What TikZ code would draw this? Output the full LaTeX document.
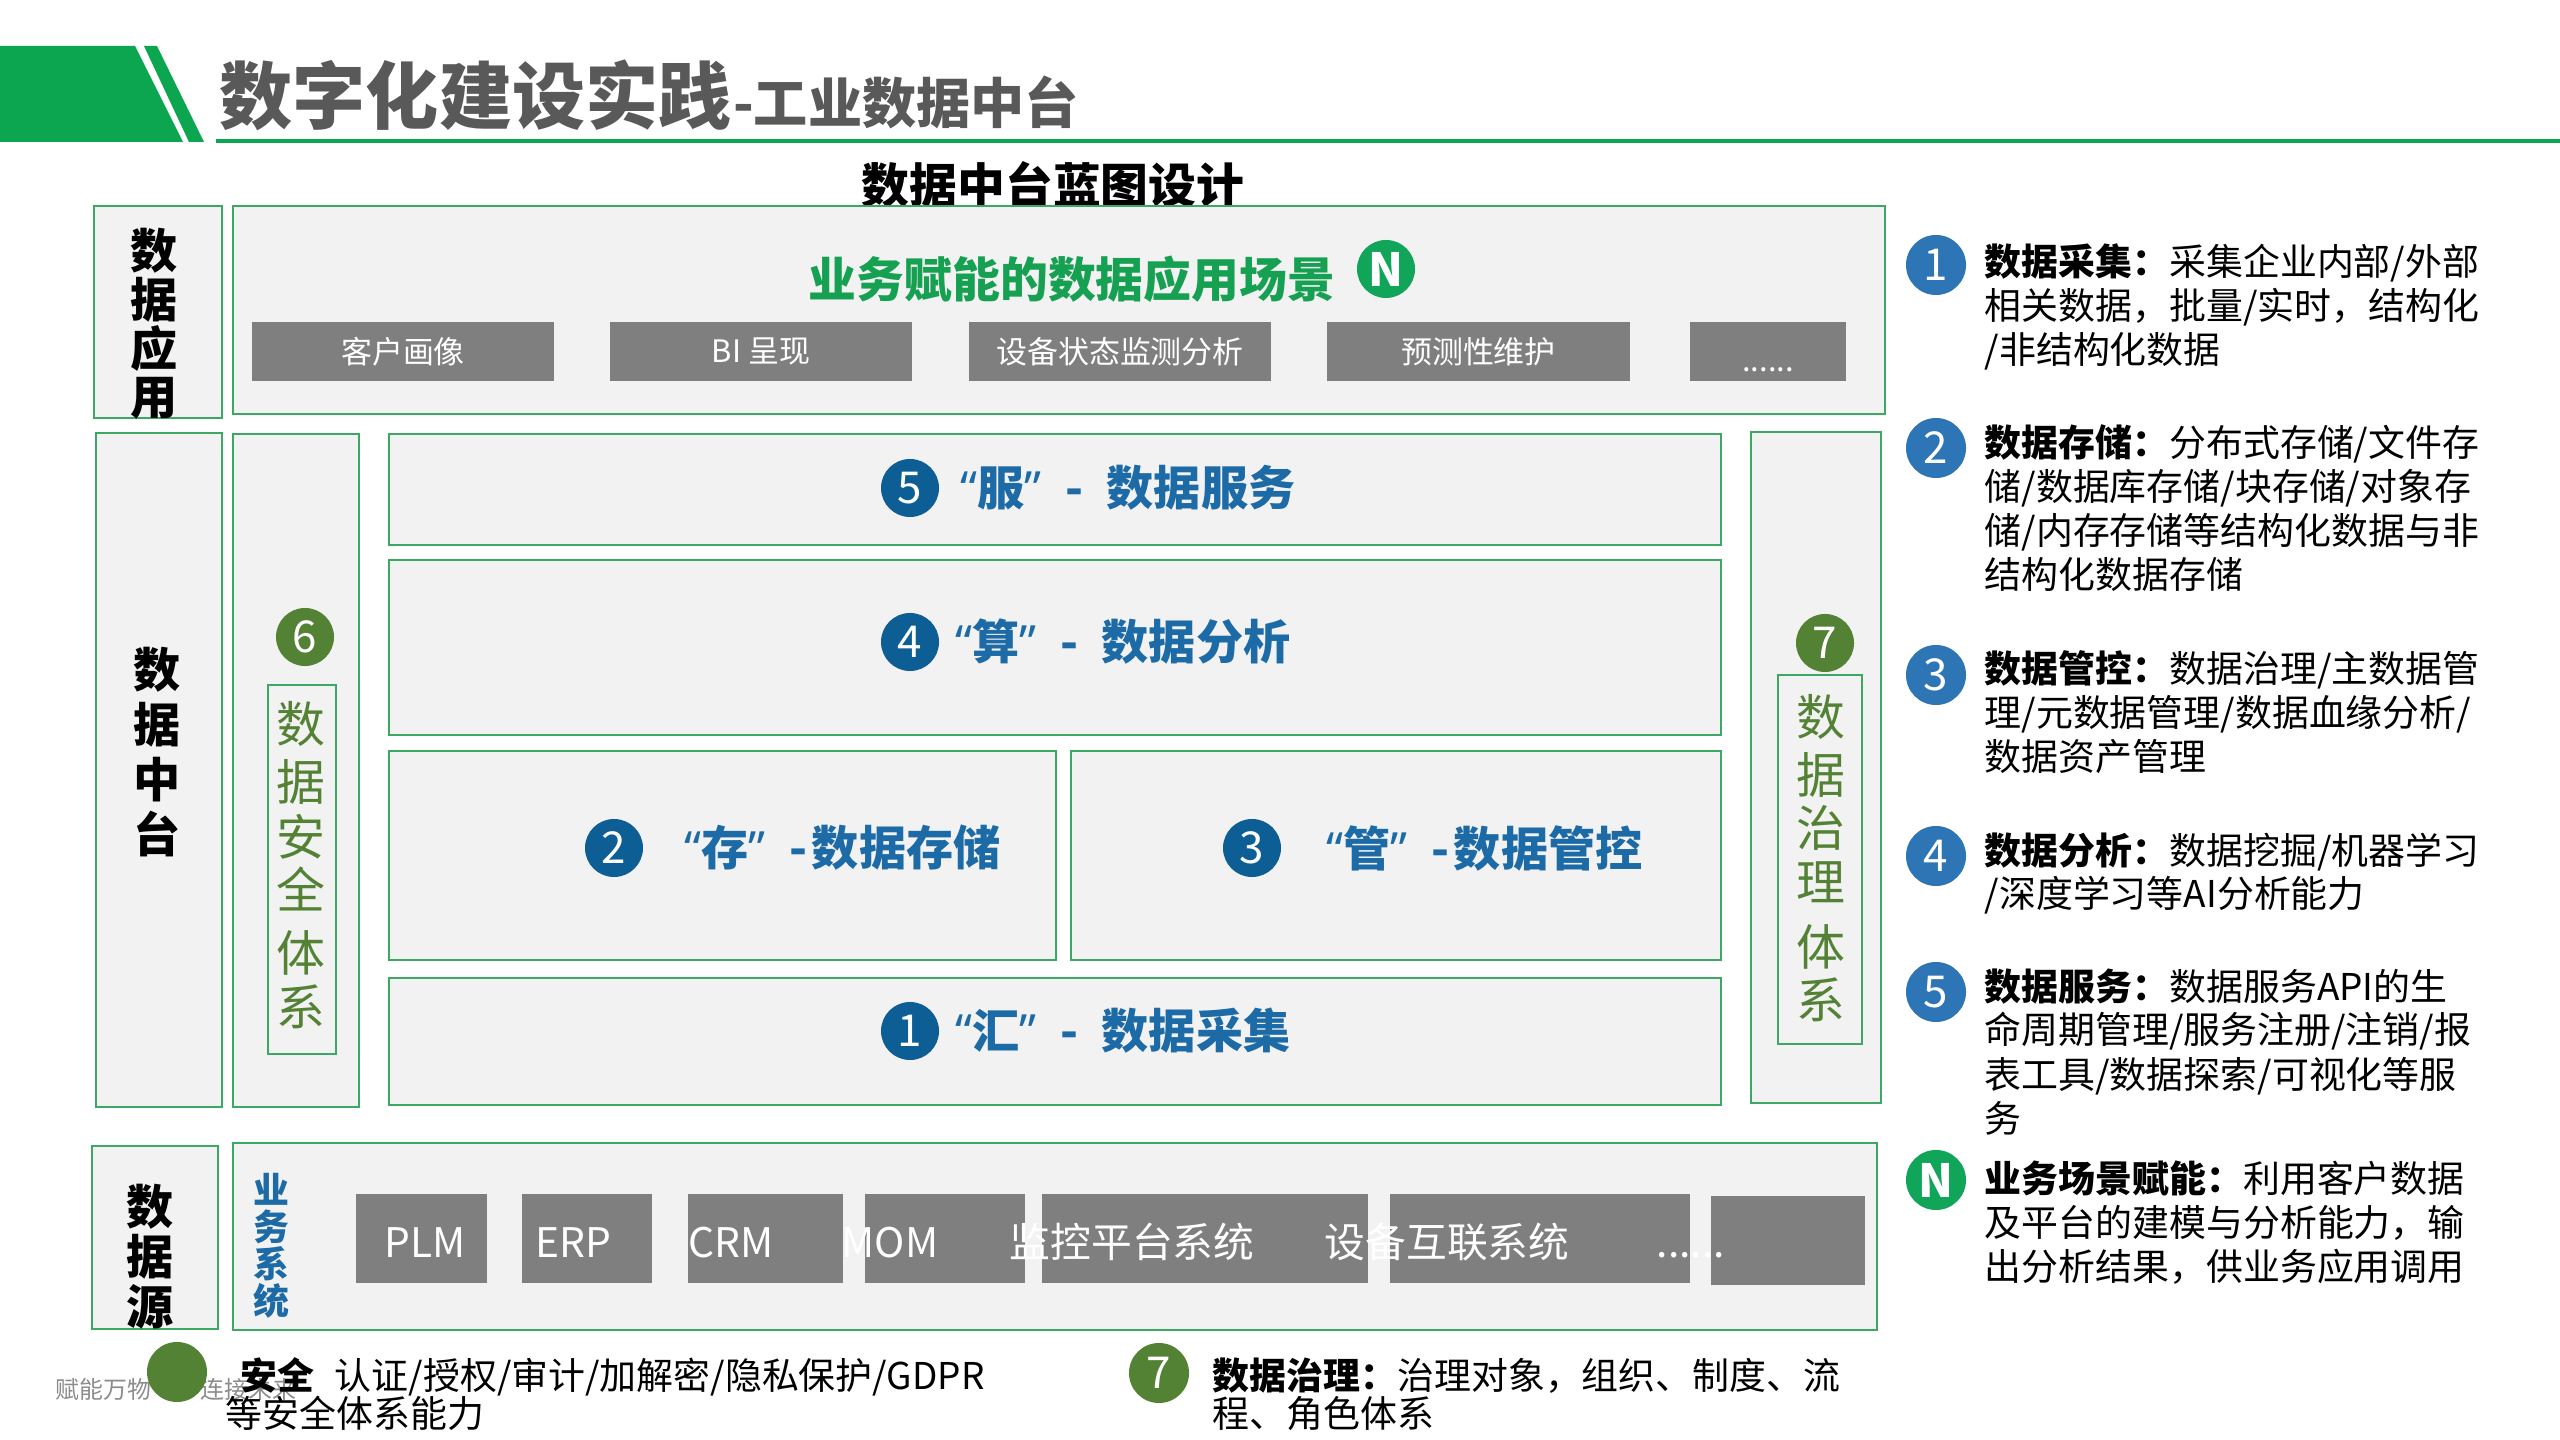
\documentclass[tikz,border=0pt]{standalone}
\usepackage{fontspec}
\setmainfont{Noto Sans CJK SC}
\newfontfamily\qfont{Noto Sans}
\newcommand{\qopen}{{\qfont “}}
\newcommand{\qclose}{{\qfont ”}}
\newcommand{\wdash}{\hspace{0.5em}-\hspace{0.5em}}
\newcommand{\ndash}{\hspace{0.5em}-\hspace{0.1em}}
\usetikzlibrary{fit}
\definecolor{hdrgreen}{RGB}{12,166,80}
\definecolor{bordergreen}{RGB}{60,168,100}
\definecolor{panelgray}{RGB}{242,242,242}
\definecolor{boxgray}{RGB}{127,127,127}
\definecolor{titlegray}{RGB}{89,89,89}
\definecolor{appgreen}{RGB}{22,160,82}
\definecolor{layerblue}{RGB}{28,106,166}
\definecolor{numblue}{RGB}{14,94,150}
\definecolor{olivegreen}{RGB}{84,130,53}
\definecolor{legblue}{RGB}{46,117,182}
\definecolor{ngreen}{RGB}{16,165,88}
\definecolor{wmgray}{RGB}{140,140,140}
\newcommand{\fsz}[2]{\fontsize{#1}{#2}\selectfont}
\tikzset{
  panel/.style={draw=bordergreen, line width=0.5pt, fill=panelgray, inner sep=0pt},
  graybox/.style={fill=boxgray, inner sep=0pt},
  layertext/.style={text=layerblue, font=\bfseries\fsz{13.4}{16}, inner sep=0pt, anchor=west},
  numcirc/.style={circle, fill=numblue, text=white, minimum size=0.58cm, inner sep=0pt, font=\fsz{12.5}{14}},
  legcirc/.style={circle, fill=legblue, text=white, minimum size=0.6cm, inner sep=0pt, font=\fsz{12.5}{14}},
  olivecirc/.style={circle, fill=olivegreen, text=white, minimum size=0.58cm, inner sep=0pt, font=\fsz{12.5}{14}},
  vlabel/.style={align=center, inner sep=0pt},
  apptext/.style={text=white, font=\fsz{8.8}{10}, inner sep=0pt},
  srctext/.style={text=white, font=\fsz{11.6}{13}, inner sep=0pt, anchor=base west},
  legtext/.style={font=\fsz{10.5}{12.5}, inner sep=0pt, anchor=base west},
  olivechar/.style={text=olivegreen, font=\fsz{13.9}{15}, inner sep=0pt},
}
\begin{document}
\begin{tikzpicture}[x=0.01cm, y=-0.01cm]
\fill[white] (0,0) rectangle (2560,1440);
\useasboundingbox (0,0) rectangle (2560,1440);
% header
\fill[hdrgreen] (0,46) -- (135,46) -- (183,142) -- (0,142) -- cycle;
\fill[hdrgreen] (144,46) -- (157,46) -- (204,142) -- (189,142) -- cycle;
\draw[hdrgreen, line width=1pt] (216,141) -- (2560,141);
\node[anchor=base west, inner sep=0pt, text=titlegray, font=\bfseries\fsz{20.8}{24}] (ttl) at (219,124) {数字化建设实践};
\node[anchor=base west, inner sep=0pt, text=titlegray, font=\bfseries\fsz{15.4}{18}] (ttl2) at (ttl.base east) {-工业数据中台};
\node[font=\bfseries\fsz{13.6}{16}, inner sep=0pt] (bp) at (1053,185) {数据中台蓝图设计};

% row 1: data applications
\node[panel, fit={(94,206) (222,418)}] (lapp) {};
\node[vlabel, font=\bfseries\fsz{13.4}{13.8}] (lapptxt) at (154,324) {数\\据\\应\\用};
\node[panel, fit={(233,206) (1885,414)}] (app) {};
\node[font=\bfseries\fsz{13.6}{16}, text=appgreen, inner sep=0pt] (apptitle) at (1072,279) {业务赋能的数据应用场景};
\node[circle, fill=ngreen, text=white, minimum size=0.58cm, inner sep=0pt, font=\bfseries\fsz{13}{14}] (ncirc) at (1386,269) {N};
\node[graybox, fit={(252,322) (554,381)}] (a1) {};
\node[apptext] (a1t) at (a1.center) {客户画像};
\node[graybox, fit={(610,322) (912,381)}] (a2) {};
\node[apptext] (a2t) at (a2.center) {BI 呈现};
\node[graybox, fit={(969,322) (1271,381)}] (a3) {};
\node[apptext] (a3t) at (a3.center) {设备状态监测分析};
\node[graybox, fit={(1327,322) (1630,381)}] (a4) {};
\node[apptext] (a4t) at (a4.center) {预测性维护};
\node[graybox, fit={(1690,322) (1846,381)}] (a5) {};
\node[apptext, anchor=base] (a5t) at (1768,372) {......};

% row 2: data middle platform
\node[panel, fit={(96,433) (222,1107)}] (ltai) {};
\node[vlabel, font=\bfseries\fsz{13.4}{15.6}] (ltaitxt) at (157,752) {数\\据\\中\\台};
\node[panel, fit={(233,434) (359,1107)}] (seccol) {};
\node[olivecirc] (c6) at (305,637) {6};
\node[panel, fit={(268,685) (336,1054)}] (secbox) {};
\foreach \ch/\yy [count=\i] in {数/724, 据/782, 安/837, 全/889, 体/953, 系/1007}
  \node[olivechar] (sc\i) at (301,\yy) {\ch};

\node[panel, fit={(389,434) (1721,545)}] (svc) {};
\node[panel, fit={(389,560) (1721,735)}] (ana) {};
\node[panel, fit={(389,751) (1056,960)}] (sto) {};
\node[panel, fit={(1071,751) (1721,960)}] (ctl) {};
\node[panel, fit={(389,978) (1721,1105)}] (col) {};
\node[numcirc] (c5) at (910,488) {5};
\node[layertext] (t5) at (960,488) {\qopen 服\qclose\wdash 数据服务};
\node[numcirc] (c4) at (910,642) {4};
\node[layertext] (t4) at (955,642) {\qopen 算\qclose\wdash 数据分析};
\node[numcirc] (c2) at (614,848) {2};
\node[layertext] (t2) at (684,848) {\qopen 存\qclose\ndash 数据存储};
\node[numcirc] (c3) at (1252,848) {3};
\node[layertext] (t3) at (1326,848) {\qopen 管\qclose\ndash 数据管控};
\node[numcirc] (c1) at (910,1031) {1};
\node[layertext] (t1) at (955,1031) {\qopen 汇\qclose\wdash 数据采集};

\node[panel, fit={(1751,432) (1881,1103)}] (govcol) {};
\node[olivecirc] (c7) at (1825,643) {7};
\node[panel, fit={(1778,675) (1862,1044)}] (govbox) {};
\foreach \ch/\yy [count=\i] in {数/717, 据/775, 治/828, 理/882, 体/947, 系/1000}
  \node[olivechar] (gc\i) at (1821,\yy) {\ch};

% row 3: data sources
\node[panel, fit={(92,1146) (218,1329)}] (lsrc) {};
\node[vlabel, font=\bfseries\fsz{13.4}{14.2}] (lsrctxt) at (150,1257) {数\\据\\源};
\node[panel, fit={(233,1143) (1877,1330)}] (src) {};
\node[vlabel, text=layerblue, font=\bfseries\fsz{10.2}{10.5}] (bizsys) at (271,1246) {业\\务\\系\\统};
\node[graybox, fit={(356,1194) (487,1283)}] (s1) {};
\node[graybox, fit={(522,1194) (652,1283)}] (s2) {};
\node[graybox, fit={(688,1194) (843,1283)}] (s3) {};
\node[graybox, fit={(865,1194) (1025,1283)}] (s4) {};
\node[graybox, fit={(1042,1194) (1368,1283)}] (s5) {};
\node[graybox, fit={(1390,1194) (1690,1283)}] (s6) {};
\node[graybox, fit={(1711,1196) (1865,1285)}] (s7) {};
\node[srctext] (s1t) at (384,1257) {PLM};
\node[srctext] (s2t) at (535,1257) {ERP};
\node[srctext] (s3t) at (688,1257) {CRM};
\node[srctext] (s4t) at (841,1257) {MOM};
\node[srctext] (s5t) at (1009,1257) {监控平台系统};
\node[srctext] (s6t) at (1324,1257) {设备互联系统};
\node[srctext] (s7t) at (1656,1257) {......};

% bottom legend
\node[text=wmgray, font=\fsz{6.8}{8}, anchor=base west, inner sep=0pt] (wm1) at (55,1398) {赋能万物};
\node[text=wmgray, font=\fsz{6.8}{8}, anchor=base west, inner sep=0pt] (wm2) at (200,1398) {连接未来};
\node[circle, fill=olivegreen, minimum size=0.6cm, inner sep=0pt] (c6b) at (177,1372) {};
\node[legtext] (sec1) at (240,1389) {{\bfseries 安全}\hspace{0.55em}认证/授权/审计/加解密/隐私保护/GDPR};
\node[legtext] (sec2) at (225,1427) {等安全体系能力};
\node[olivecirc, minimum size=0.6cm] (c7b) at (1159,1373) {7};
\node[legtext] (gov1) at (1212,1389) {{\bfseries 数据治理：}治理对象，组织、制度、流};
\node[legtext] (gov2) at (1212,1427) {程、角色体系};

% right legend
\node[legcirc] (r1) at (1936,265) {1};
\node[legtext] (r1a) at (1984,276) {{\bfseries 数据采集：}采集企业内部/外部};
\node[legtext] (r1b) at (1984,320) {相关数据，批量/实时，结构化};
\node[legtext] (r1c) at (1984,364) {/非结构化数据};
\node[legcirc] (r2) at (1936,448) {2};
\node[legtext] (r2a) at (1984,457) {{\bfseries 数据存储：}分布式存储/文件存};
\node[legtext] (r2b) at (1984,501) {储/数据库存储/块存储/对象存};
\node[legtext] (r2c) at (1984,545) {储/内存存储等结构化数据与非};
\node[legtext] (r2d) at (1984,589) {结构化数据存储};
\node[legcirc] (r3) at (1936,675) {3};
\node[legtext] (r3a) at (1984,683) {{\bfseries 数据管控：}数据治理/主数据管};
\node[legtext] (r3b) at (1984,727) {理/元数据管理/数据血缘分析/};
\node[legtext] (r3c) at (1984,771) {数据资产管理};
\node[legcirc] (r4) at (1936,856) {4};
\node[legtext] (r4a) at (1984,864) {{\bfseries 数据分析：}数据挖掘/机器学习};
\node[legtext] (r4b) at (1984,907) {/深度学习等AI分析能力};
\node[legcirc] (r5) at (1936,992) {5};
\node[legtext] (r5a) at (1984,1000) {{\bfseries 数据服务：}数据服务API的生};
\node[legtext] (r5b) at (1984,1044) {命周期管理/服务注册/注销/报};
\node[legtext] (r5c) at (1984,1088) {表工具/数据探索/可视化等服};
\node[legtext] (r5d) at (1984,1132) {务};
\node[legcirc, fill=ngreen, font=\bfseries\fsz{13}{14}] (rn) at (1936,1180) {N};
\node[legtext] (rna) at (1984,1192) {{\bfseries 业务场景赋能：}利用客户数据};
\node[legtext] (rnb) at (1984,1236) {及平台的建模与分析能力，输};
\node[legtext] (rnc) at (1984,1280) {出分析结果，供业务应用调用};
\end{tikzpicture}
\end{document}
